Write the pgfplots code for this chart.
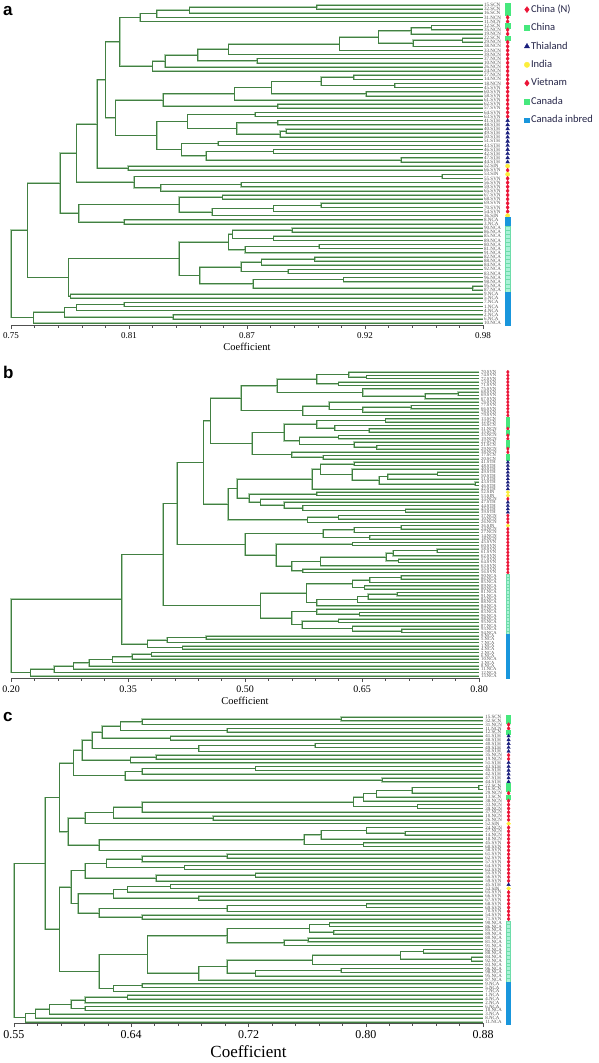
\documentclass[border=0pt]{standalone}
\usepackage{pgfplots}
\pgfplotsset{compat=1.18}
\usepackage{pgfplotstable}
\usepackage{fontspec}
\setmainfont{Liberation Serif}
\newfontfamily\legfont{Carlito}
\newfontfamily\panelfont{Liberation Sans}
\definecolor{tree}{RGB}{66,128,66}
\definecolor{treehalo}{RGB}{172,206,172}
\definecolor{mred}{RGB}{235,20,55}
\definecolor{mgreen}{RGB}{70,232,125}
\definecolor{mnavy}{RGB}{25,30,125}
\definecolor{myellow}{RGB}{252,238,60}
\definecolor{mpale}{RGB}{170,242,215}
\definecolor{mpaledraw}{RGB}{110,220,170}
\definecolor{mblue}{RGB}{25,150,220}
\definecolor{legtext}{RGB}{35,35,70}
\definecolor{labgray}{RGB}{80,80,80}
\definecolor{axgray}{RGB}{80,80,80}

\pgfplotsset{
  dendro/.style={scale only axis, clip=false,
    axis x line*=bottom, axis y line=none, y dir=reverse,
    tick align=outside, minor x tick num=4,
    major tick length=4pt, minor tick length=2.5pt,
    tick style={axgray, line width=0.5pt},
    x axis line style={axgray, line width=0.6pt},
    ytick=\empty, xlabel={Coefficient},
    unbounded coords=jump},
  halo/.style={treehalo, line width=1.6pt, forget plot, mark=none},
  core/.style={tree, line width=0.65pt, forget plot, mark=none},
  grp/.style={forget plot, only marks, scatter, scatter src=explicit symbolic,
    scatter/classes={
      r={mark=diamond*, mred},
      g={mark=square*, mgreen},
      t={mark=triangle*, mnavy},
      y={mark=*, myellow},
      k={mark=square*, draw=mpaledraw, fill=mpale},
      i={mark=square*, mblue}}},
  labs/.style={forget plot, mark=none, draw=none, nodes near coords,
    point meta=explicit symbolic,
    nodes near coords style={anchor=west, inner sep=0pt,
      font=\fontsize{#1}{#1}\selectfont, text=labgray}},
}

% ---------------- panel a : tree (x = coefficient, y = leaf position)
\pgfplotstableread[row sep=\\]{
x y\\
0.98 1\\ 0.899 1\\ 0.899 2\\ 0.98 2\\ nan nan\\
0.899 1.5\\ 0.837 1.5\\ 0.837 3\\ 0.98 3\\ nan nan\\
0.837 2.25\\ 0.821 2.25\\ 0.821 4\\ 0.98 4\\ nan nan\\
0.821 3.1\\ 0.813 3.1\\ 0.813 5\\ 0.98 5\\ nan nan\\
0.98 6\\ 0.955 6\\ 0.955 7\\ 0.98 7\\ nan nan\\
0.955 6.5\\ 0.945 6.5\\ 0.945 8\\ 0.98 8\\ nan nan\\
0.98 9\\ 0.970 9\\ 0.970 10\\ 0.98 10\\ nan nan\\
0.970 9.5\\ 0.946 9.5\\ 0.946 11\\ 0.98 11\\ nan nan\\
0.945 7.25\\ 0.929 7.25\\ 0.929 10.25\\ 0.946 10.25\\ nan nan\\
0.929 8.75\\ 0.910 8.75\\ 0.910 12\\ 0.98 12\\ nan nan\\
0.910 10.4\\ 0.856 10.4\\ 0.856 13\\ 0.98 13\\ nan nan\\
0.98 14\\ 0.870 14\\ 0.870 15\\ 0.98 15\\ nan nan\\
0.856 11.7\\ 0.841 11.7\\ 0.841 14.5\\ 0.870 14.5\\ nan nan\\
0.841 13.1\\ 0.825 13.1\\ 0.825 16\\ 0.98 16\\ nan nan\\
0.825 14.55\\ 0.819 14.55\\ 0.819 17\\ 0.98 17\\ nan nan\\
0.813 4.05\\ 0.803 4.05\\ 0.803 15.75\\ 0.819 15.75\\ nan nan\\
0.98 18\\ 0.917 18\\ 0.917 19\\ 0.98 19\\ nan nan\\
0.98 20\\ 0.937 20\\ 0.937 21\\ 0.98 21\\ nan nan\\
0.917 18.5\\ 0.901 18.5\\ 0.901 20.5\\ 0.937 20.5\\ nan nan\\
0.98 22\\ 0.923 22\\ 0.923 23\\ 0.98 23\\ nan nan\\
0.901 19.5\\ 0.877 19.5\\ 0.877 22.5\\ 0.923 22.5\\ nan nan\\
0.877 21\\ 0.859 21\\ 0.859 24\\ 0.98 24\\ nan nan\\
0.98 25\\ 0.880 25\\ 0.880 26\\ 0.98 26\\ nan nan\\
0.859 22.5\\ 0.824 22.5\\ 0.824 25.5\\ 0.880 25.5\\ nan nan\\
0.98 27\\ 0.869 27\\ 0.869 28\\ 0.98 28\\ nan nan\\
0.98 29\\ 0.880 29\\ 0.880 30\\ 0.98 30\\ nan nan\\
0.98 31\\ 0.884 31\\ 0.884 32\\ 0.98 32\\ nan nan\\
0.884 31.5\\ 0.881 31.5\\ 0.881 33\\ 0.98 33\\ nan nan\\
0.880 29.5\\ 0.860 29.5\\ 0.860 32.25\\ 0.881 32.25\\ nan nan\\
0.869 27.5\\ 0.836 27.5\\ 0.836 30.9\\ 0.860 30.9\\ nan nan\\
0.98 34\\ 0.851 34\\ 0.851 35\\ 0.98 35\\ nan nan\\
0.98 36\\ 0.878 36\\ 0.878 37\\ 0.98 37\\ nan nan\\
0.98 38\\ 0.940 38\\ 0.940 39\\ 0.98 39\\ nan nan\\
0.878 36.5\\ 0.845 36.5\\ 0.845 38.5\\ 0.940 38.5\\ nan nan\\
0.851 34.5\\ 0.833 34.5\\ 0.833 37.5\\ 0.845 37.5\\ nan nan\\
0.836 29.2\\ 0.821 29.2\\ 0.821 36\\ 0.833 36\\ nan nan\\
0.824 24\\ 0.801 24\\ 0.801 32.6\\ 0.821 32.6\\ nan nan\\
0.803 9.9\\ 0.796 9.9\\ 0.796 28.3\\ 0.801 28.3\\ nan nan\\
0.98 40\\ 0.807 40\\ 0.807 41\\ 0.98 41\\ nan nan\\
0.796 19.1\\ 0.792 19.1\\ 0.792 40.5\\ 0.807 40.5\\ nan nan\\
0.98 42\\ 0.960 42\\ 0.960 43\\ 0.98 43\\ nan nan\\
0.98 44\\ 0.862 44\\ 0.862 45\\ 0.98 45\\ nan nan\\
0.862 44.5\\ 0.823 44.5\\ 0.823 46\\ 0.98 46\\ nan nan\\
0.960 42.5\\ 0.810 42.5\\ 0.810 45.25\\ 0.823 45.25\\ nan nan\\
0.792 29.8\\ 0.782 29.8\\ 0.782 43.9\\ 0.810 43.9\\ nan nan\\
0.98 47\\ 0.853 47\\ 0.853 48\\ 0.98 48\\ nan nan\\
0.98 49\\ 0.901 49\\ 0.901 50\\ 0.98 50\\ nan nan\\
0.901 49.5\\ 0.878 49.5\\ 0.878 51\\ 0.98 51\\ nan nan\\
0.878 50.25\\ 0.848 50.25\\ 0.848 52\\ 0.98 52\\ nan nan\\
0.853 47.5\\ 0.832 47.5\\ 0.832 51.1\\ 0.848 51.1\\ nan nan\\
0.98 53\\ 0.805 53\\ 0.805 54\\ 0.98 54\\ nan nan\\
0.832 49.3\\ 0.783 49.3\\ 0.783 53.5\\ 0.805 53.5\\ nan nan\\
0.782 36.85\\ 0.774 36.85\\ 0.774 51.4\\ 0.783 51.4\\ nan nan\\
0.98 55\\ 0.887 55\\ 0.887 56\\ 0.98 56\\ nan nan\\
0.98 57\\ 0.878 57\\ 0.878 58\\ 0.98 58\\ nan nan\\
0.887 55.5\\ 0.858 55.5\\ 0.858 57.5\\ 0.878 57.5\\ nan nan\\
0.98 59\\ 0.900 59\\ 0.900 60\\ 0.98 60\\ nan nan\\
0.900 59.5\\ 0.864 59.5\\ 0.864 61\\ 0.98 61\\ nan nan\\
0.858 56.5\\ 0.856 56.5\\ 0.856 60.25\\ 0.864 60.25\\ nan nan\\
0.98 62\\ 0.898 62\\ 0.898 63\\ 0.98 63\\ nan nan\\
0.898 62.5\\ 0.872 62.5\\ 0.872 64\\ 0.98 64\\ nan nan\\
0.98 65\\ 0.885 65\\ 0.885 66\\ 0.98 66\\ nan nan\\
0.872 63.25\\ 0.862 63.25\\ 0.862 65.5\\ 0.885 65.5\\ nan nan\\
0.98 67\\ 0.912 67\\ 0.912 68\\ 0.98 68\\ nan nan\\
0.98 69\\ 0.975 69\\ 0.975 70\\ 0.98 70\\ nan nan\\
0.912 67.5\\ 0.868 67.5\\ 0.868 69.5\\ 0.975 69.5\\ nan nan\\
0.862 64.4\\ 0.842 64.4\\ 0.842 68.5\\ 0.868 68.5\\ nan nan\\
0.856 58.4\\ 0.832 58.4\\ 0.832 66.45\\ 0.842 66.45\\ nan nan\\
0.98 71\\ 0.779 71\\ 0.779 72\\ 0.98 72\\ nan nan\\
0.832 62.4\\ 0.778 62.4\\ 0.778 71.5\\ 0.779 71.5\\ nan nan\\
0.774 44.1\\ 0.758 44.1\\ 0.758 66.95\\ 0.778 66.95\\ nan nan\\
0.98 73\\ 0.805 73\\ 0.805 74\\ 0.98 74\\ nan nan\\
0.805 73.5\\ 0.782 73.5\\ 0.782 75\\ 0.98 75\\ nan nan\\
0.98 76\\ 0.829 76\\ 0.829 77\\ 0.98 77\\ nan nan\\
0.782 74.25\\ 0.776 74.25\\ 0.776 76.5\\ 0.829 76.5\\ nan nan\\
0.776 75.4\\ 0.761 75.4\\ 0.761 78\\ 0.98 78\\ nan nan\\
0.758 55.5\\ 0.750 55.5\\ 0.750 76.7\\ 0.761 76.7\\ nan nan\\
}\treeA

\pgfplotstableread{
i g lab
1 g 15.SCN
2 g 32.SCN
3 g 16.SCN
4 r 31.NCN
5 r 11.NCN
6 g 12.SCN
7 r 35.NCN
8 r 19.NCN
9 g 22.SCN
10 r 29.NCN
11 r 38.NCN
12 r 33.NCN
13 r 39.NCN
14 r 37.NCN
15 r 10.NCN
16 r 26.NCN
17 r 24.NCN
18 r 27.NCN
19 r 14.NCN
20 r 18.NCN
21 r 45.SVN
22 r 60.SVN
23 r 58.SVN
24 r 61.SVN
25 r 62.SVN
26 r 57.SVN
27 r 64.SVN
28 r 63.SVN
29 t 41.STH
30 t 48.STH
31 t 40.STH
32 t 49.STH
33 t 50.STH
34 t 51.STH
35 t 43.STH
36 t 46.STH
37 t 42.STH
38 t 47.STH
39 t 44.STH
40 y 52.SIN
41 r 66.SVN
42 y 53.SIN
43 r 55.SVN
44 r 56.SVN
45 r 59.SVN
46 r 65.SVN
47 r 67.SVN
48 r 68.SVN
49 r 69.SVN
50 r 70.SVN
51 r 54.SVN
52 y 36.SIN
53 i 8.NCA
54 i 3.NCA
55 k 90.NCA
56 k 86.NCA
57 k 85.NCA
58 k 89.NCA
59 k 80.NCA
60 k 81.NCA
61 k 91.NCA
62 k 82.NCA
63 k 88.NCA
64 k 84.NCA
65 k 92.NCA
66 k 83.NCA
67 k 96.NCA
68 k 98.NCA
69 k 95.NCA
70 k 87.NCA
71 i 9.NCA
72 i 5.NCA
73 i 7.NCA
74 i 1.NCA
75 i 4.NCA
76 i 2.NCA
77 i 6.NCA
78 i 10.NCA
}\leafA

% ---------------- panel b
\pgfplotstableread[row sep=\\]{
x y\\
0.80 2\\ 0.656 2\\ 0.656 3\\ 0.80 3\\ nan nan\\
0.80 1\\ 0.633 1\\ 0.633 2.5\\ 0.656 2.5\\ nan nan\\
0.80 4\\ 0.620 4\\ 0.620 5\\ 0.80 5\\ nan nan\\
0.633 1.75\\ 0.592 1.75\\ 0.592 4.5\\ 0.620 4.5\\ nan nan\\
0.80 7\\ 0.773 7\\ 0.773 8\\ 0.80 8\\ nan nan\\
0.773 7.5\\ 0.731 7.5\\ 0.731 9\\ 0.80 9\\ nan nan\\
0.80 6\\ 0.651 6\\ 0.651 8.25\\ 0.731 8.25\\ nan nan\\
0.592 3.125\\ 0.541 3.125\\ 0.541 7.125\\ 0.651 7.125\\ nan nan\\
0.80 11\\ 0.713 11\\ 0.713 12\\ 0.80 12\\ nan nan\\
0.713 11.5\\ 0.651 11.5\\ 0.651 13\\ 0.80 13\\ nan nan\\
0.80 10\\ 0.608 10\\ 0.608 12.25\\ 0.651 12.25\\ nan nan\\
0.608 11.125\\ 0.574 11.125\\ 0.574 14\\ 0.80 14\\ nan nan\\
0.541 5.125\\ 0.495 5.125\\ 0.495 12.56\\ 0.574 12.56\\ nan nan\\
0.80 18\\ 0.659 18\\ 0.659 19\\ 0.80 19\\ nan nan\\
0.80 17\\ 0.615 17\\ 0.615 18.5\\ 0.659 18.5\\ nan nan\\
0.80 15\\ 0.680 15\\ 0.680 16\\ 0.80 16\\ nan nan\\
0.680 15.5\\ 0.592 15.5\\ 0.592 17.75\\ 0.615 17.75\\ nan nan\\
0.80 23\\ 0.669 23\\ 0.669 24\\ 0.80 24\\ nan nan\\
0.80 22\\ 0.640 22\\ 0.640 23.5\\ 0.669 23.5\\ nan nan\\
0.80 20\\ 0.620 20\\ 0.620 21\\ 0.80 21\\ nan nan\\
0.620 20.5\\ 0.570 20.5\\ 0.570 22.75\\ 0.640 22.75\\ nan nan\\
0.80 26\\ 0.600 26\\ 0.600 27\\ 0.80 27\\ nan nan\\
0.80 25\\ 0.560 25\\ 0.560 26.5\\ 0.600 26.5\\ nan nan\\
0.592 16.6\\ 0.550 16.6\\ 0.550 21.6\\ 0.570 21.6\\ nan nan\\
0.550 19.1\\ 0.509 19.1\\ 0.509 25.75\\ 0.560 25.75\\ nan nan\\
0.495 8.84\\ 0.456 8.84\\ 0.456 22.4\\ 0.509 22.4\\ nan nan\\
0.80 34\\ 0.795 34\\ 0.795 35\\ 0.80 35\\ nan nan\\
0.80 31\\ 0.747 31\\ 0.747 32\\ 0.80 32\\ nan nan\\
0.747 31.5\\ 0.683 31.5\\ 0.683 33\\ 0.80 33\\ nan nan\\
0.683 32.25\\ 0.672 32.25\\ 0.672 34.5\\ 0.795 34.5\\ nan nan\\
0.80 30\\ 0.637 30\\ 0.637 33.4\\ 0.672 33.4\\ nan nan\\
0.80 28\\ 0.640 28\\ 0.640 29\\ 0.80 29\\ nan nan\\
0.640 28.5\\ 0.597 28.5\\ 0.597 31.7\\ 0.637 31.7\\ nan nan\\
0.597 30.1\\ 0.586 30.1\\ 0.586 36\\ 0.80 36\\ nan nan\\
0.80 37\\ 0.592 37\\ 0.592 38\\ 0.80 38\\ nan nan\\
0.80 42\\ 0.706 42\\ 0.706 43\\ 0.80 43\\ nan nan\\
0.80 41\\ 0.574 41\\ 0.574 42.5\\ 0.706 42.5\\ nan nan\\
0.80 40\\ 0.550 40\\ 0.550 41.75\\ 0.574 41.75\\ nan nan\\
0.80 39\\ 0.520 39\\ 0.520 40.9\\ 0.550 40.9\\ nan nan\\
0.80 44\\ 0.620 44\\ 0.620 45\\ 0.80 45\\ nan nan\\
0.620 44.5\\ 0.580 44.5\\ 0.580 46\\ 0.80 46\\ nan nan\\
0.592 37.5\\ 0.505 37.5\\ 0.505 39.95\\ 0.520 39.95\\ nan nan\\
0.586 33.05\\ 0.490 33.05\\ 0.490 38.7\\ 0.505 38.7\\ nan nan\\
0.490 35.9\\ 0.478 35.9\\ 0.478 45.25\\ 0.580 45.25\\ nan nan\\
0.456 15.6\\ 0.447 15.6\\ 0.447 40.6\\ 0.478 40.6\\ nan nan\\
0.80 47\\ 0.700 47\\ 0.700 48\\ 0.80 48\\ nan nan\\
0.700 47.5\\ 0.640 47.5\\ 0.640 49\\ 0.80 49\\ nan nan\\
0.80 50\\ 0.660 50\\ 0.660 51\\ 0.80 51\\ nan nan\\
0.640 48.25\\ 0.600 48.25\\ 0.600 50.5\\ 0.660 50.5\\ nan nan\\
0.80 52\\ 0.638 52\\ 0.638 53\\ 0.80 53\\ nan nan\\
0.80 54\\ 0.746 54\\ 0.746 55\\ 0.80 55\\ nan nan\\
0.746 54.5\\ 0.690 54.5\\ 0.690 56\\ 0.80 56\\ nan nan\\
0.80 57\\ 0.697 57\\ 0.697 58\\ 0.80 58\\ nan nan\\
0.690 55.25\\ 0.681 55.25\\ 0.681 57.5\\ 0.697 57.5\\ nan nan\\
0.681 56.4\\ 0.597 56.4\\ 0.597 59\\ 0.80 59\\ nan nan\\
0.80 60\\ 0.574 60\\ 0.574 61\\ 0.80 61\\ nan nan\\
0.597 57.7\\ 0.560 57.7\\ 0.560 60.5\\ 0.574 60.5\\ nan nan\\
0.638 52.5\\ 0.540 52.5\\ 0.540 59.1\\ 0.560 59.1\\ nan nan\\
0.600 49.4\\ 0.500 49.4\\ 0.500 55.8\\ 0.540 55.8\\ nan nan\\
0.447 28.1\\ 0.413 28.1\\ 0.413 52.6\\ 0.500 52.6\\ nan nan\\
0.80 62\\ 0.700 62\\ 0.700 63\\ 0.80 63\\ nan nan\\
0.700 62.5\\ 0.660 62.5\\ 0.660 64\\ 0.80 64\\ nan nan\\
0.80 65\\ 0.653 65\\ 0.653 66\\ 0.80 66\\ nan nan\\
0.660 63.25\\ 0.638 63.25\\ 0.638 65.5\\ 0.653 65.5\\ nan nan\\
0.80 67\\ 0.695 67\\ 0.695 68\\ 0.80 68\\ nan nan\\
0.695 67.5\\ 0.658 67.5\\ 0.658 69\\ 0.80 69\\ nan nan\\
0.658 68.25\\ 0.644 68.25\\ 0.644 70\\ 0.80 70\\ nan nan\\
0.644 69.1\\ 0.592 69.1\\ 0.592 71\\ 0.80 71\\ nan nan\\
0.638 64.4\\ 0.579 64.4\\ 0.579 70.05\\ 0.592 70.05\\ nan nan\\
0.80 73\\ 0.647 73\\ 0.647 74\\ 0.80 74\\ nan nan\\
0.80 72\\ 0.592 72\\ 0.592 73.5\\ 0.647 73.5\\ nan nan\\
0.80 78\\ 0.701 78\\ 0.701 79\\ 0.80 79\\ nan nan\\
0.80 77\\ 0.638 77\\ 0.638 78.5\\ 0.701 78.5\\ nan nan\\
0.80 75\\ 0.620 75\\ 0.620 76\\ 0.80 76\\ nan nan\\
0.620 75.5\\ 0.573 75.5\\ 0.573 77.75\\ 0.638 77.75\\ nan nan\\
0.592 72.75\\ 0.560 72.75\\ 0.560 76.6\\ 0.573 76.6\\ nan nan\\
0.579 67.2\\ 0.520 67.2\\ 0.520 74.7\\ 0.560 74.7\\ nan nan\\
0.413 40.35\\ 0.395 40.35\\ 0.395 70.95\\ 0.520 70.95\\ nan nan\\
0.80 80\\ 0.450 80\\ 0.450 81\\ 0.80 81\\ nan nan\\
0.450 80.5\\ 0.400 80.5\\ 0.400 82\\ 0.80 82\\ nan nan\\
0.80 83\\ 0.420 83\\ 0.420 84\\ 0.80 84\\ nan nan\\
0.400 81.25\\ 0.375 81.25\\ 0.375 83.5\\ 0.420 83.5\\ nan nan\\
0.395 55.65\\ 0.342 55.65\\ 0.342 82.4\\ 0.375 82.4\\ nan nan\\
0.80 85\\ 0.380 85\\ 0.380 86\\ 0.80 86\\ nan nan\\
0.380 85.5\\ 0.355 85.5\\ 0.355 87\\ 0.80 87\\ nan nan\\
0.355 86.25\\ 0.330 86.25\\ 0.330 88\\ 0.80 88\\ nan nan\\
0.330 87.1\\ 0.300 87.1\\ 0.300 89\\ 0.80 89\\ nan nan\\
0.300 88.05\\ 0.280 88.05\\ 0.280 90\\ 0.80 90\\ nan nan\\
0.280 89.0\\ 0.255 89.0\\ 0.255 91\\ 0.80 91\\ nan nan\\
0.255 90.0\\ 0.225 90.0\\ 0.225 92\\ 0.80 92\\ nan nan\\
0.342 69.0\\ 0.200 69.0\\ 0.200 91.0\\ 0.225 91.0\\ nan nan\\
}\treeB

\pgfplotstableread{
i g lab
1 r 70.SVN
2 r 74.SVN
3 r 72.SVN
4 r 73.SVN
5 r 71.SVN
6 r 75.SVN
7 r 68.SVN
8 r 69.SVN
9 r 67.SVN
10 r 76.SVN
11 r 77.SVN
12 r 66.SVN
13 r 78.SVN
14 r 79.SVN
15 g 13.SCN
16 g 12.SCN
17 g 16.SCN
18 r 31.NCN
19 g 15.SCN
20 r 35.NCN
21 r 19.NCN
22 g 22.SCN
23 g 21.SCN
24 r 29.NCN
25 r 38.NCN
26 g 17.SCN
27 g 20.SCN
28 t 41.STH
29 t 48.STH
30 t 40.STH
31 t 49.STH
32 t 50.STH
33 t 51.STH
34 t 43.STH
35 t 46.STH
36 t 42.STH
37 y 52.SIN
38 y 53.SIN
39 r 33.NCN
40 t 47.STH
41 t 44.STH
42 t 45.STH
43 t 39.STH
44 r 37.NCN
45 r 10.NCN
46 r 26.NCN
47 y 36.SIN
48 r 24.NCN
49 r 27.NCN
50 r 14.NCN
51 r 18.NCN
52 r 45.SVN
53 r 60.SVN
54 r 58.SVN
55 r 61.SVN
56 r 62.SVN
57 r 57.SVN
58 r 64.SVN
59 r 63.SVN
60 r 55.SVN
61 r 56.SVN
62 k 90.NCA
63 k 86.NCA
64 k 85.NCA
65 k 89.NCA
66 k 80.NCA
67 k 81.NCA
68 k 91.NCA
69 k 82.NCA
70 k 88.NCA
71 k 84.NCA
72 k 92.NCA
73 k 83.NCA
74 k 96.NCA
75 k 98.NCA
76 k 95.NCA
77 k 87.NCA
78 k 93.NCA
79 k 94.NCA
80 i 9.NCA
81 i 5.NCA
82 i 7.NCA
83 i 1.NCA
84 i 4.NCA
85 i 2.NCA
86 i 6.NCA
87 i 10.NCA
88 i 3.NCA
89 i 8.NCA
90 i 11.NCA
91 i 12.NCA
92 i 13.NCA
}\leafB

% ---------------- panel c
\pgfplotstableread[row sep=\\]{
x y\\
0.88 1\\ 0.780 1\\ 0.780 2\\ 0.88 2\\ nan nan\\
0.780 1.5\\ 0.640 1.5\\ 0.640 3\\ 0.88 3\\ nan nan\\
0.88 4\\ 0.700 4\\ 0.700 5\\ 0.88 5\\ nan nan\\
0.640 2.25\\ 0.625 2.25\\ 0.625 4.5\\ 0.700 4.5\\ nan nan\\
0.88 6\\ 0.660 6\\ 0.660 7\\ 0.88 7\\ nan nan\\
0.625 3.4\\ 0.612 3.4\\ 0.612 6.5\\ 0.660 6.5\\ nan nan\\
0.88 8\\ 0.762 8\\ 0.762 9\\ 0.88 9\\ nan nan\\
0.762 8.5\\ 0.680 8.5\\ 0.680 10\\ 0.88 10\\ nan nan\\
0.612 4.95\\ 0.605 4.95\\ 0.605 9.25\\ 0.680 9.25\\ nan nan\\
0.88 11\\ 0.650 11\\ 0.650 12\\ 0.88 12\\ nan nan\\
0.650 11.5\\ 0.632 11.5\\ 0.632 13\\ 0.88 13\\ nan nan\\
0.605 7.1\\ 0.598 7.1\\ 0.598 12.25\\ 0.632 12.25\\ nan nan\\
0.88 14\\ 0.720 14\\ 0.720 15\\ 0.88 15\\ nan nan\\
0.720 14.5\\ 0.640 14.5\\ 0.640 16\\ 0.88 16\\ nan nan\\
0.88 17\\ 0.809 17\\ 0.809 18\\ 0.88 18\\ nan nan\\
0.640 15.25\\ 0.628 15.25\\ 0.628 17.5\\ 0.809 17.5\\ nan nan\\
0.598 9.7\\ 0.592 9.7\\ 0.592 16.4\\ 0.628 16.4\\ nan nan\\
0.88 19\\ 0.877 19\\ 0.877 20\\ 0.88 20\\ nan nan\\
0.877 19.5\\ 0.830 19.5\\ 0.830 21\\ 0.88 21\\ nan nan\\
0.830 20.25\\ 0.805 20.25\\ 0.805 22\\ 0.88 22\\ nan nan\\
0.805 21.1\\ 0.796 21.1\\ 0.796 23\\ 0.88 23\\ nan nan\\
0.88 24\\ 0.834 24\\ 0.834 25\\ 0.88 25\\ nan nan\\
0.796 22.05\\ 0.789 22.05\\ 0.789 24.5\\ 0.834 24.5\\ nan nan\\
0.789 23.3\\ 0.640 23.3\\ 0.640 26\\ 0.88 26\\ nan nan\\
0.88 27\\ 0.690 27\\ 0.690 28\\ 0.88 28\\ nan nan\\
0.640 24.65\\ 0.620 24.65\\ 0.620 27.5\\ 0.690 27.5\\ nan nan\\
0.620 26.1\\ 0.600 26.1\\ 0.600 29\\ 0.88 29\\ nan nan\\
0.88 31\\ 0.825 31\\ 0.825 32\\ 0.88 32\\ nan nan\\
0.88 30\\ 0.798 30\\ 0.798 31.5\\ 0.825 31.5\\ nan nan\\
0.798 30.75\\ 0.766 30.75\\ 0.766 33\\ 0.88 33\\ nan nan\\
0.88 34\\ 0.796 34\\ 0.796 35\\ 0.88 35\\ nan nan\\
0.766 31.9\\ 0.754 31.9\\ 0.754 34.5\\ 0.796 34.5\\ nan nan\\
0.754 33.2\\ 0.610 33.2\\ 0.610 36\\ 0.88 36\\ nan nan\\
0.600 27.55\\ 0.588 27.55\\ 0.588 34.6\\ 0.610 34.6\\ nan nan\\
0.592 13.05\\ 0.582 13.05\\ 0.582 31.1\\ 0.588 31.1\\ nan nan\\
0.88 37\\ 0.700 37\\ 0.700 38\\ 0.88 38\\ nan nan\\
0.700 37.5\\ 0.640 37.5\\ 0.640 39\\ 0.88 39\\ nan nan\\
0.88 40\\ 0.670 40\\ 0.670 41\\ 0.88 41\\ nan nan\\
0.640 38.25\\ 0.615 38.25\\ 0.615 40.5\\ 0.670 40.5\\ nan nan\\
0.88 42\\ 0.720 42\\ 0.720 43\\ 0.88 43\\ nan nan\\
0.720 42.5\\ 0.650 42.5\\ 0.650 44\\ 0.88 44\\ nan nan\\
0.615 39.4\\ 0.600 39.4\\ 0.600 43.25\\ 0.650 43.25\\ nan nan\\
0.88 45\\ 0.660 45\\ 0.660 46\\ 0.88 46\\ nan nan\\
0.660 45.5\\ 0.630 45.5\\ 0.630 47\\ 0.88 47\\ nan nan\\
0.88 48\\ 0.680 48\\ 0.680 49\\ 0.88 49\\ nan nan\\
0.630 46.25\\ 0.620 46.25\\ 0.620 48.5\\ 0.680 48.5\\ nan nan\\
0.88 50\\ 0.798 50\\ 0.798 51\\ 0.88 51\\ nan nan\\
0.798 50.5\\ 0.700 50.5\\ 0.700 52\\ 0.88 52\\ nan nan\\
0.88 53\\ 0.640 53\\ 0.640 54\\ 0.88 54\\ nan nan\\
0.700 51.25\\ 0.610 51.25\\ 0.610 53.5\\ 0.640 53.5\\ nan nan\\
0.620 47.4\\ 0.595 47.4\\ 0.595 52.4\\ 0.610 52.4\\ nan nan\\
0.600 41.3\\ 0.590 41.3\\ 0.590 49.9\\ 0.595 49.9\\ nan nan\\
0.88 55\\ 0.772 55\\ 0.772 56\\ 0.88 56\\ nan nan\\
0.88 57\\ 0.775 57\\ 0.775 58\\ 0.88 58\\ nan nan\\
0.772 55.5\\ 0.758 55.5\\ 0.758 57.5\\ 0.775 57.5\\ nan nan\\
0.88 59\\ 0.757 59\\ 0.757 60\\ 0.88 60\\ nan nan\\
0.757 59.5\\ 0.740 59.5\\ 0.740 61\\ 0.88 61\\ nan nan\\
0.758 56.5\\ 0.700 56.5\\ 0.700 60.25\\ 0.740 60.25\\ nan nan\\
0.88 62\\ 0.838 62\\ 0.838 63\\ 0.88 63\\ nan nan\\
0.88 64\\ 0.872 64\\ 0.872 65\\ 0.88 65\\ nan nan\\
0.838 62.5\\ 0.822 62.5\\ 0.822 64.5\\ 0.872 64.5\\ nan nan\\
0.822 63.5\\ 0.760 63.5\\ 0.760 66\\ 0.88 66\\ nan nan\\
0.88 67\\ 0.780 67\\ 0.780 68\\ 0.88 68\\ nan nan\\
0.780 67.5\\ 0.720 67.5\\ 0.720 69\\ 0.88 69\\ nan nan\\
0.760 64.75\\ 0.700 64.75\\ 0.700 68.25\\ 0.720 68.25\\ nan nan\\
0.700 66.5\\ 0.680 66.5\\ 0.680 70\\ 0.88 70\\ nan nan\\
0.700 58.4\\ 0.644 58.4\\ 0.644 68.25\\ 0.680 68.25\\ nan nan\\
0.88 71\\ 0.640 71\\ 0.640 72\\ 0.88 72\\ nan nan\\
0.640 71.5\\ 0.620 71.5\\ 0.620 73\\ 0.88 73\\ nan nan\\
0.644 63.3\\ 0.610 63.3\\ 0.610 72.25\\ 0.620 72.25\\ nan nan\\
0.590 45.6\\ 0.582 45.6\\ 0.582 67.8\\ 0.610 67.8\\ nan nan\\
0.582 22.1\\ 0.572 22.1\\ 0.572 56.7\\ 0.582 56.7\\ nan nan\\
0.88 74\\ 0.630 74\\ 0.630 75\\ 0.88 75\\ nan nan\\
0.630 74.5\\ 0.600 74.5\\ 0.600 76\\ 0.88 76\\ nan nan\\
0.88 77\\ 0.600 77\\ 0.600 78\\ 0.88 78\\ nan nan\\
0.600 75.25\\ 0.590 75.25\\ 0.590 77.5\\ 0.600 77.5\\ nan nan\\
0.590 76.4\\ 0.575 76.4\\ 0.575 79\\ 0.88 79\\ nan nan\\
0.575 77.7\\ 0.565 77.7\\ 0.565 80\\ 0.88 80\\ nan nan\\
0.565 78.85\\ 0.558 78.85\\ 0.558 81\\ 0.88 81\\ nan nan\\
0.572 39.4\\ 0.550 39.4\\ 0.550 79.9\\ 0.558 79.9\\ nan nan\\
}\treeC

\pgfplotstableread{
i g lab
1 g 15.SCN
2 g 32.SCN
3 r 31.NCN
4 r 11.NCN
5 g 12.SCN
6 t 41.STH
7 t 48.STH
8 t 40.STH
9 t 49.STH
10 t 50.STH
11 r 35.NCN
12 r 19.NCN
13 t 51.STH
14 t 43.STH
15 t 46.STH
16 t 42.STH
17 t 47.STH
18 t 44.STH
19 g 22.SCN
20 g 16.SCN
21 r 29.NCN
22 g 13.SCN
23 r 38.NCN
24 r 33.NCN
25 r 39.NCN
26 r 37.NCN
27 r 10.NCN
28 r 26.NCN
29 y 52.SIN
30 r 24.NCN
31 r 27.NCN
32 r 14.NCN
33 r 18.NCN
34 r 45.SVN
35 r 60.SVN
36 r 58.SVN
37 r 61.SVN
38 r 62.SVN
39 r 57.SVN
40 r 64.SVN
41 r 63.SVN
42 r 55.SVN
43 r 56.SVN
44 r 59.SVN
45 t 45.STH
46 y 53.SIN
47 r 65.SVN
48 r 66.SVN
49 r 67.SVN
50 r 68.SVN
51 r 69.SVN
52 r 70.SVN
53 r 54.SVN
54 r 71.SVN
55 k 90.NCA
56 k 86.NCA
57 k 85.NCA
58 k 89.NCA
59 k 80.NCA
60 k 81.NCA
61 k 91.NCA
62 k 82.NCA
63 k 88.NCA
64 k 84.NCA
65 k 92.NCA
66 k 83.NCA
67 k 96.NCA
68 k 98.NCA
69 k 95.NCA
70 k 87.NCA
71 i 9.NCA
72 i 5.NCA
73 i 7.NCA
74 i 1.NCA
75 i 4.NCA
76 i 2.NCA
77 i 6.NCA
78 i 10.NCA
79 i 3.NCA
80 i 8.NCA
81 i 11.NCA
}\leafC

\begin{document}
\begin{tikzpicture}
\path[use as bounding box] (0,0) rectangle (599pt,-1063pt);

% ================= panel a
\begin{axis}[dendro, at={(11pt,-325pt)}, anchor=south west,
  width=472pt, height=325pt,
  xmin=0.75, xmax=0.98, ymin=-0.211, ymax=78.48,
  xtick={0.75,0.8075,0.865,0.9225,0.98},
  xticklabels={0.75,0.81,0.87,0.92,0.98},
  xticklabel style={font=\fontsize{9}{9}\selectfont},
  xlabel style={font=\fontsize{10.5}{10.5}\selectfont,
    at={(axis description cs:0.5,0)}, anchor=center, yshift=-22pt},
  legend style={at={(1.087,0.99)}, anchor=north west, draw=none, fill=none,
    font=\legfont\fontsize{10.5}{12}\selectfont, text=legtext, row sep=6.1pt,
    inner sep=0pt, nodes={inner sep=1.4pt, text height=7.5pt, text depth=2pt}},
  legend cell align=left,
  legend image code/.code={\draw[#1] plot coordinates {(0pt,0pt)};},
]
\addlegendimage{mark=diamond*, mred, mark size=3pt}
\addlegendentry{China (N)}
\addlegendimage{mark=square*, mgreen, mark size=2.6pt}
\addlegendentry{China}
\addlegendimage{mark=triangle*, mnavy, mark size=3pt}
\addlegendentry{Thialand}
\addlegendimage{mark=*, myellow, mark size=2.7pt}
\addlegendentry{India}
\addlegendimage{mark=diamond*, mred, mark size=3pt}
\addlegendentry{Vietnam}
\addlegendimage{mark=square*, mgreen, mark size=2.6pt}
\addlegendentry{Canada}
\addlegendimage{mark=square*, mblue, mark size=2.3pt}
\addlegendentry{Canada inbred}
\addplot[halo] table[x=x,y=y]{\treeA};
\addplot[core] table[x=x,y=y]{\treeA};
\addplot[grp, mark size=2.1pt] table[x expr=0.992, y=i, meta=g]{\leafA};
\addplot[labs=5] table[x expr=0.9805, y=i, meta=lab]{\leafA};
\end{axis}

% ================= panel b
\begin{axis}[dendro, at={(11pt,-678pt)}, anchor=south west,
  width=468pt, height=312pt,
  xmin=0.2, xmax=0.8, ymin=-0.796, ymax=92.62,
  xtick={0.2,0.35,0.5,0.65,0.8},
  xticklabels={0.20,0.35,0.50,0.65,0.80},
  xticklabel style={font=\fontsize{10}{10}\selectfont},
  xlabel style={font=\fontsize{10.5}{10.5}\selectfont,
    at={(axis description cs:0.5,0)}, anchor=center, yshift=-23pt},
]
\addplot[halo] table[x=x,y=y]{\treeB};
\addplot[core] table[x=x,y=y]{\treeB};
\addplot[grp, mark size=1.8pt] table[x expr=0.837, y=i, meta=g]{\leafB};
\addplot[labs=4.6] table[x expr=0.8026, y=i, meta=lab]{\leafB};
\end{axis}

% ================= panel c
\begin{axis}[dendro, at={(14pt,-1023pt)}, anchor=south west,
  width=469pt, height=312pt,
  xmin=0.55, xmax=0.88, ymin=-0.575, ymax=81.31,
  xtick={0.55,0.6325,0.715,0.7975,0.88},
  xticklabels={0.55,0.64,0.72,0.80,0.88},
  xticklabel style={font=\fontsize{12}{12}\selectfont},
  xlabel style={font=\fontsize{17}{17}\selectfont,
    at={(axis description cs:0.5,0)}, anchor=center, yshift=-29pt},
]
\addplot[halo] table[x=x,y=y]{\treeC};
\addplot[core] table[x=x,y=y]{\treeC};
\addplot[grp, mark size=1.95pt] table[x expr=0.898, y=i, meta=g]{\leafC};
\addplot[labs=4.9] table[x expr=0.8816, y=i, meta=lab]{\leafC};
\end{axis}

\node[font=\panelfont\bfseries\fontsize{17}{17}\selectfont, anchor=base west, inner sep=0pt] at (3pt,-15pt) {a};
\node[font=\panelfont\bfseries\fontsize{17}{17}\selectfont, anchor=base west, inner sep=0pt] at (3pt,-378pt) {b};
\node[font=\panelfont\bfseries\fontsize{17}{17}\selectfont, anchor=base west, inner sep=0pt] at (3pt,-721pt) {c};
\end{tikzpicture}
\end{document}
